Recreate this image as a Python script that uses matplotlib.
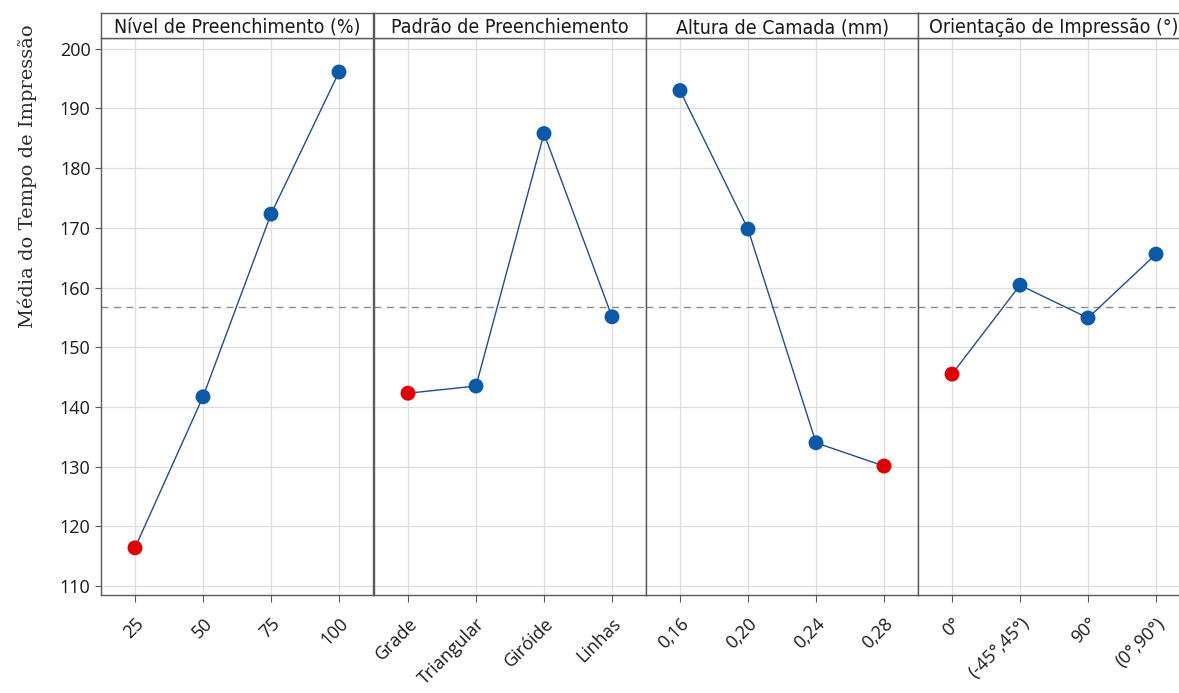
import matplotlib
matplotlib.use("Agg")
import matplotlib.pyplot as plt
from matplotlib import font_manager
from matplotlib.font_manager import FontProperties

titles = ["Nível de Preenchimento (%)", "Padrão de Preenchiemento",
          "Altura de Camada (mm)", "Orientação de Impressão (°)"]
labels = [["25", "50", "75", "100"],
          ["Grade", "Triangular", "Giróide", "Linhas"],
          ["0,16", "0,20", "0,24", "0,28"],
          ["0°", "(-45°,45°)", "90°", "(0°,90°)"]]
values = [[116.4, 141.7, 172.3, 196.1],
          [142.3, 143.5, 185.8, 155.1],
          [193.0, 169.8, 134.0, 130.1],
          [145.5, 160.4, 154.9, 165.6]]
grand_mean = 156.8

# find a condensed sans font file if available
cond_file = None
for f in font_manager.fontManager.ttflist:
    fn = f.fname.lower()
    if "dejavusanscondensed.ttf" in fn:
        cond_file = f.fname
        break
if cond_file is None:
    for f in font_manager.fontManager.ttflist:
        fn = f.fname.lower()
        if ("narrow" in fn or "condensed" in fn) and "bold" not in fn and "oblique" not in fn and "italic" not in fn:
            cond_file = f.fname
            break


def title_fp(size):
    if cond_file:
        return FontProperties(fname=cond_file, size=size)
    return FontProperties(family="DejaVu Sans", size=size * 0.9)


tick_fp = FontProperties(family="Open Sans", size=13)

W, H = 1179, 693
fig = plt.figure(figsize=(W / 100, H / 100), dpi=100)
blue = "#0B5AAA"
red = "#E00000"
line_c = "#1F4E8C"
frame_c = "#5A5A5A"

lefts = [101, 374, 646, 918]
pw = 272
top_px, strip_px, bot_px = 13, 38, 595
for i in range(4):
    x0 = lefts[i] / W
    ax = fig.add_axes([x0, 1 - bot_px / H, pw / W, (bot_px - strip_px) / H])
    vals = values[i]
    xs = list(range(4))
    ax.plot(xs, vals, color=line_c, lw=1.0, zorder=3)
    vmin = min(vals)
    cols = [red if v == vmin else blue for v in vals]
    ax.scatter(xs, vals, s=115, c=cols, zorder=4, edgecolors="none")
    ax.axhline(grand_mean, color="#8C8C8C", lw=1.0, ls=(0, (5, 4)), zorder=2)
    ax.set_xlim(-0.5, 3.5)
    ax.set_ylim(108.5, 201.8)
    ax.set_yticks(range(110, 201, 10))
    ax.set_xticks(xs)
    ax.set_xticklabels(labels[i], rotation=45, ha="right", rotation_mode="anchor",
                       fontproperties=tick_fp, color="#1A1A1A")
    ax.grid(True, color="#DDDDDD", lw=0.9, zorder=0)
    ax.set_axisbelow(True)
    for sp in ax.spines.values():
        sp.set_color(frame_c)
        sp.set_linewidth(1.0)
    ax.tick_params(axis="x", length=5, color=frame_c, pad=9)
    if i == 0:
        ax.tick_params(axis="y", length=4, color=frame_c)
        ax.set_yticks(range(110, 201, 10))
        ax.set_yticklabels([str(v) for v in range(110, 201, 10)],
                           fontproperties=tick_fp, color="#1A1A1A")
        ax.set_ylabel("Média do Tempo de Impressão", family="DejaVu Serif",
                      fontsize=14, color="#2A2A2A")
        ax.yaxis.set_label_coords(-0.235, 0.752)
    else:
        ax.tick_params(axis="y", length=0, labelleft=False)
    # strip
    sax = fig.add_axes([x0, 1 - strip_px / H, pw / W, (strip_px - top_px) / H])
    sax.set_xticks([])
    sax.set_yticks([])
    for sp in sax.spines.values():
        sp.set_color(frame_c)
        sp.set_linewidth(1.0)
    sax.text(0.5, 0.42, titles[i], ha="center", va="center",
             fontproperties=title_fp(14), color="#1A1A1A", transform=sax.transAxes)

fig.savefig("out.png", dpi=100)
